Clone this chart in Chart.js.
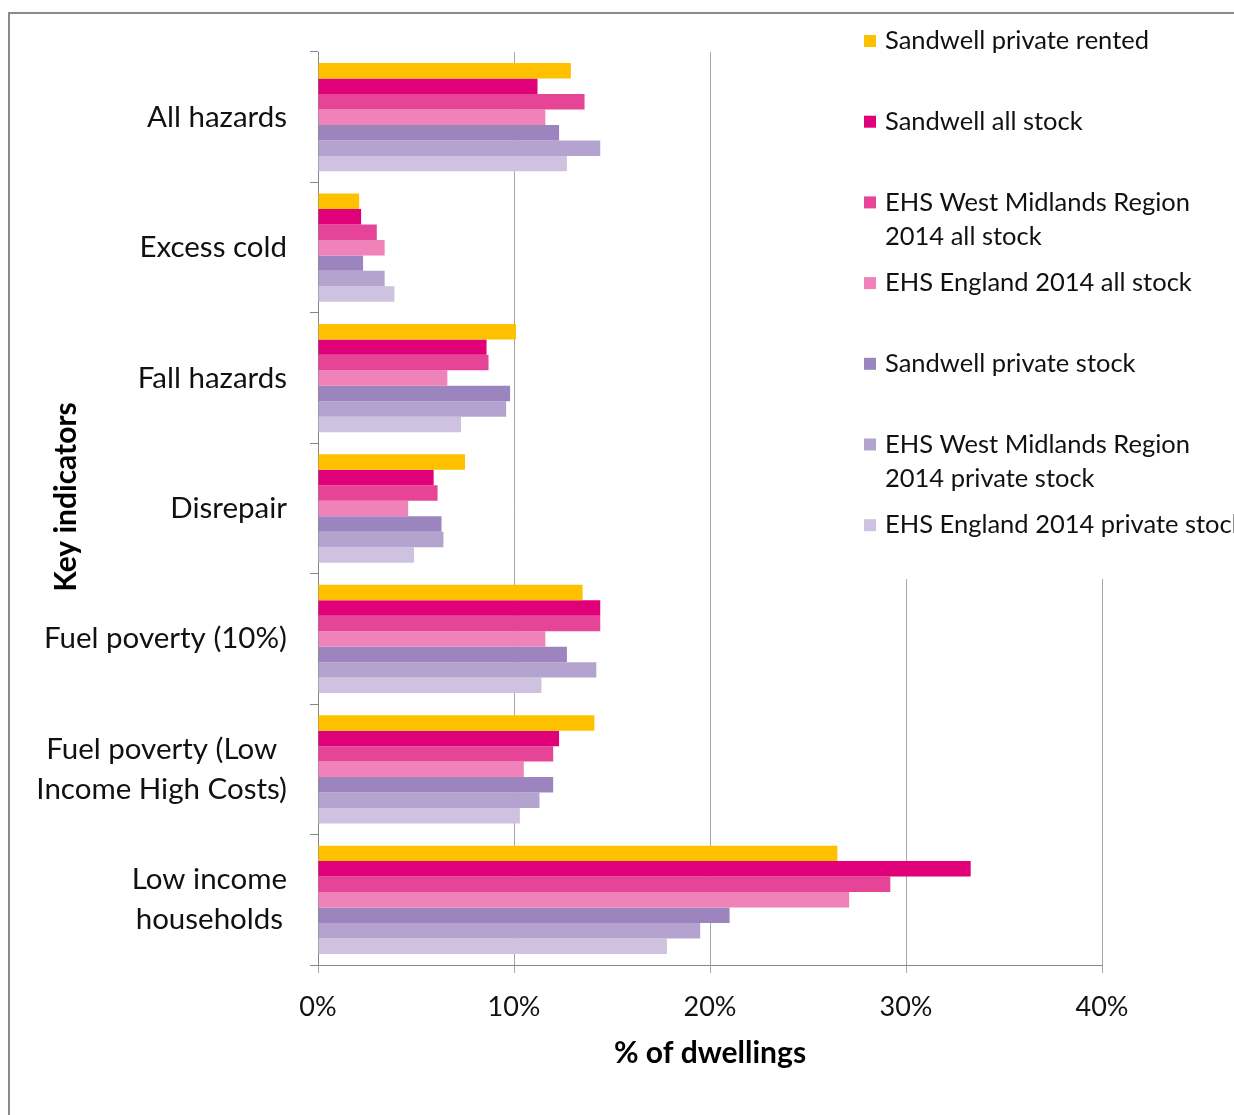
<!DOCTYPE html>
<html><head><meta charset="utf-8">
<script src="https://cdn.jsdelivr.net/npm/chart.js@4.4.1/dist/chart.umd.min.js"></script>
<style>html,body{margin:0;padding:0;background:#fff}canvas{display:block}</style>
</head><body>
<canvas id="c" width="1234" height="1115"></canvas>
<script>
// ---- data ----
const categories = [['All hazards'],['Excess cold'],['Fall hazards'],['Disrepair'],['Fuel poverty (10%)'],['Fuel poverty (Low','Income High Costs)'],['Low income','households']];
const seriesNames = [['Sandwell private rented'],['Sandwell all stock'],['EHS West Midlands Region','2014 all stock'],['EHS England 2014 all stock'],['Sandwell private stock'],['EHS West Midlands Region','2014 private stock'],['EHS England 2014 private stock']];
const sandwellPrivateRented = [12.9, 2.1, 10.1, 7.5, 13.5, 14.1, 26.5];
const sandwellAllStock      = [11.2, 2.2, 8.6, 5.9, 14.4, 12.3, 33.3];
const ehsWMAllStock         = [13.6, 3.0, 8.7, 6.1, 14.4, 12.0, 29.2];
const ehsEnglandAllStock    = [11.6, 3.4, 6.6, 4.6, 11.6, 10.5, 27.1];
const sandwellPrivateStock  = [12.3, 2.3, 9.8, 6.3, 12.7, 12.0, 21.0];
const ehsWMPrivateStock     = [14.4, 3.4, 9.6, 6.4, 14.2, 11.3, 19.5];
const ehsEnglandPrivateStock= [12.7, 3.9, 7.3, 4.9, 11.4, 10.3, 17.8];
const xTickValues = [0, 10, 20, 30, 40];
const axisTitleX = '% of dwellings';
const axisTitleY = 'Key indicators';

// ---- styles ----
const seriesValues = [sandwellPrivateRented, sandwellAllStock, ehsWMAllStock, ehsEnglandAllStock, sandwellPrivateStock, ehsWMPrivateStock, ehsEnglandPrivateStock];
const colors = ['#FFC000','#E0007A','#E64497','#EE82B9','#9C85BF','#B4A3CF','#CFC2E0'];
const FONT = 'Lato';

const custom = {
  id: 'custom',
  beforeDraw(chart) {
    const c = chart.ctx; c.save(); c.fillStyle = '#fff'; c.fillRect(0, 0, chart.width, chart.height); c.restore();
  },
  afterDraw(chart) {
    const c = chart.ctx, ys = chart.scales.y, xs = chart.scales.x;
    c.save();
    // outer frame
    c.strokeStyle = '#8a8a8a'; c.lineWidth = 2; c.strokeRect(9, 13, 2000, 2000);
    // legend background
    c.fillStyle = '#fff'; c.fillRect(848, 15, 400, 564);
    // legend
    c.font = '25.5px ' + FONT; c.textBaseline = 'middle'; c.textAlign = 'left';
    seriesNames.forEach((lines, i) => {
      const yy = 41 + i * 80.7;
      c.fillStyle = colors[i]; c.fillRect(864, yy - 6, 12, 12);
      c.fillStyle = '#111';
      lines.forEach((t, j) => c.fillText(t, 885, yy + j * 34));
    });
    // category labels
    c.font = '29.5px ' + FONT; c.textAlign = 'center'; c.fillStyle = '#111';
    categories.forEach((lines, i) => {
      const cy = ys.getPixelForValue(i);
      const w = Math.max(...lines.map(t => c.measureText(t).width));
      const cx = 287 - w / 2;
      lines.forEach((t, j) => c.fillText(t, cx, cy + (j - (lines.length - 1) / 2) * 40));
    });
    // axis titles
    c.font = 'bold 30px ' + FONT; c.textAlign = 'center'; c.fillStyle = '#000';
    c.fillText(axisTitleX, (xs.left + xs.right) / 2, 1053);
    c.translate(66, 497); c.rotate(-Math.PI / 2); c.fillText(axisTitleY, 0, 0);
    c.restore();
  }
};

new Chart(document.getElementById('c'), {
  type: 'bar',
  data: {
    labels: categories.map(l => l.join(' ')),
    datasets: seriesValues.map((v, i) => ({
      label: seriesNames[i].join(' '),
      data: v,
      backgroundColor: colors[i],
      borderWidth: 0,
      categoryPercentage: 0.83,
      barPercentage: 1.0
    }))
  },
  options: {
    indexAxis: 'y',
    responsive: false,
    animation: false,
    events: [],
    layout: { padding: { top: 52, right: 132, left: 0, bottom: 0 } },
    plugins: { legend: { display: false }, tooltip: { enabled: false }, title: { display: false } },
    scales: {
      x: {
        min: 0, max: 40,
        afterBuildTicks: s => { s.ticks = xTickValues.map(v => ({ value: v })); },
        ticks: { callback: v => v + '%', color: '#111', font: { family: FONT, size: 27 }, padding: 18, maxRotation: 0 },
        grid: { color: '#a6a6a6', lineWidth: 1, tickLength: 8, drawTicks: true },
        border: { color: '#868686', width: 1 },
        afterFit: s => { s.height = 150; }
      },
      y: {
        ticks: { display: false },
        grid: { offset: true, drawOnChartArea: false, drawTicks: true, tickLength: 8, color: '#868686' },
        border: { color: '#868686', width: 1 },
        afterFit: s => { s.width = 318; }
      }
    }
  },
  plugins: [custom]
});
</script>
</body></html>
